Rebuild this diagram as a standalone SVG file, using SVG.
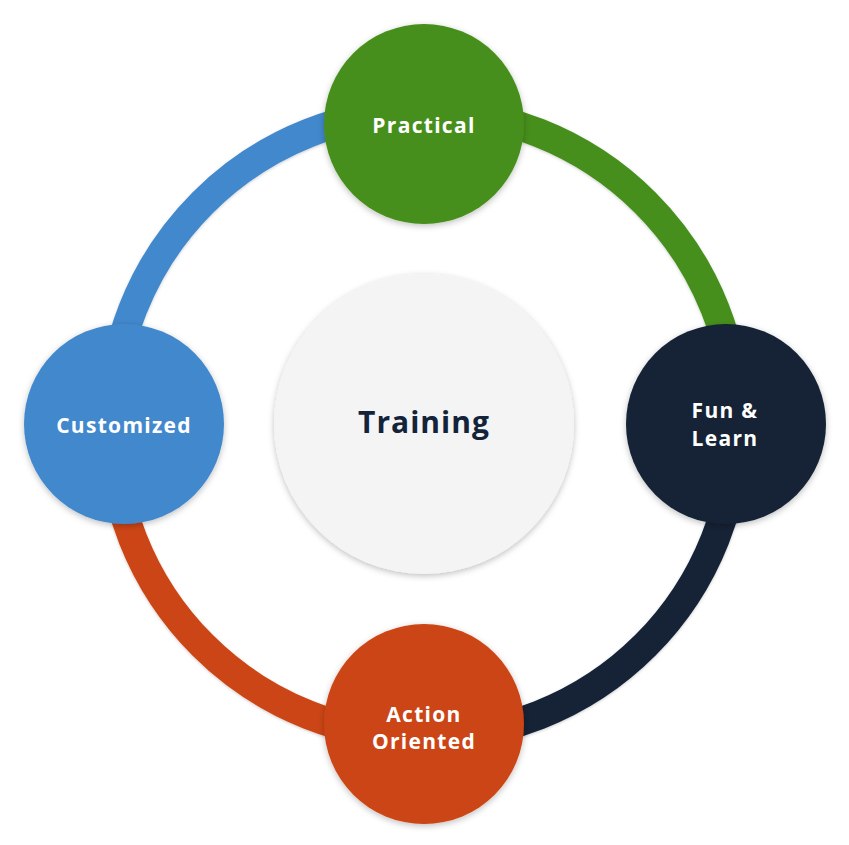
<svg xmlns="http://www.w3.org/2000/svg" width="849" height="845" viewBox="0 0 849 845">
<defs>
<filter id="sh" x="-20%" y="-20%" width="140%" height="140%">
<feDropShadow dx="0" dy="2" stdDeviation="3" flood-color="#000" flood-opacity="0.25"/>
</filter>
<filter id="shr" x="-10%" y="-10%" width="120%" height="120%">
<feDropShadow dx="0" dy="1" stdDeviation="1.5" flood-color="#000" flood-opacity="0.2"/>
</filter>
</defs>
<style>
.arc{fill:none;stroke-width:29}
.lbl{font-family:"Open Sans","Liberation Sans",sans-serif;font-weight:700;font-size:21px;fill:#fff;text-anchor:middle;letter-spacing:1.3px}
.ctr{font-family:"Open Sans","Liberation Sans",sans-serif;font-weight:700;font-size:30px;fill:#13233a;text-anchor:middle;letter-spacing:1px}
</style>
<rect width="849" height="845" fill="#fff"/>
<g id="connectors" filter="url(#shr)">
<path class="arc" stroke="#4388cc" d="M111 424 A313 313 0 0 1 424 111"/>
<path class="arc" stroke="#468f1a" d="M424 111 A313 313 0 0 1 737 424"/>
<path class="arc" stroke="#132335" d="M737 424 A313 313 0 0 1 424 737"/>
<path class="arc" stroke="#cc4512" d="M424 737 A313 313 0 0 1 111 424"/>
</g>
<g id="training">
<circle cx="424" cy="424" r="150" fill="#f4f4f4" filter="url(#sh)"/>
<text class="ctr" x="424" y="433">Training</text>
</g>
<g id="practical">
<circle cx="424" cy="124" r="100" fill="#468f1a" filter="url(#sh)"/>
<text class="lbl" x="424" y="133">Practical</text>
</g>
<g id="fun-learn">
<circle cx="726" cy="424" r="100" fill="#132335" filter="url(#sh)"/>
<text class="lbl" x="725" y="418">Fun &amp;</text>
<text class="lbl" x="725" y="446">Learn</text>
</g>
<g id="action-oriented">
<circle cx="424" cy="724" r="100" fill="#cc4512" filter="url(#sh)"/>
<text class="lbl" x="424" y="722">Action</text>
<text class="lbl" x="424" y="749">Oriented</text>
</g>
<g id="customized">
<circle cx="124" cy="424" r="100" fill="#4388cc" filter="url(#sh)"/>
<text class="lbl" x="124" y="433">Customized</text>
</g>
</svg>
